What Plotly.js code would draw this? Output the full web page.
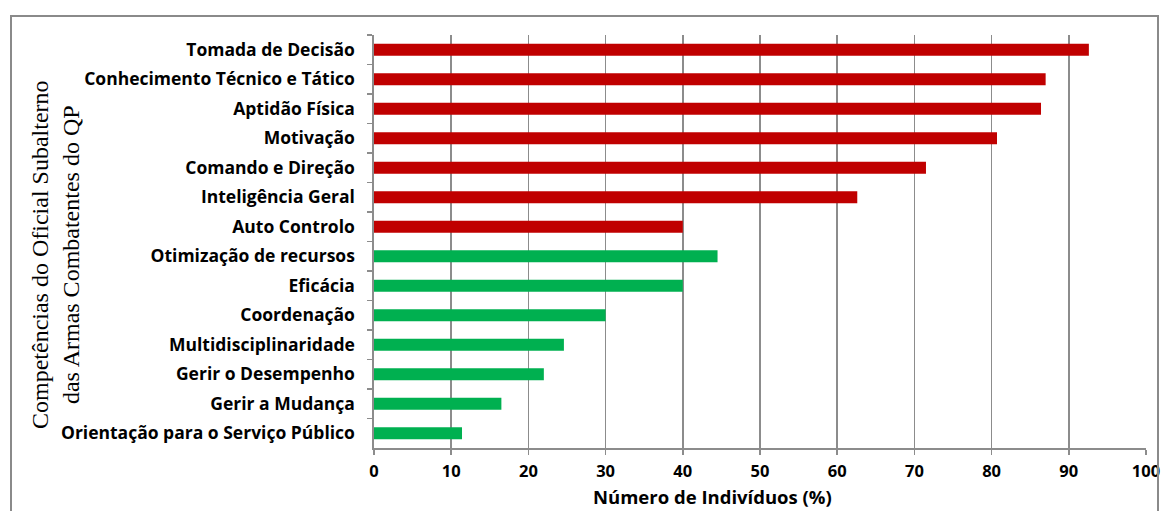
<!DOCTYPE html>
<html>
<head>
<meta charset="utf-8">
<script src="https://cdn.plot.ly/plotly-3.0.1.min.js"></script>
<style>
html,body{margin:0;padding:0;background:#fff;}
#wrap{position:relative;width:1167px;height:511px;}
#chart{position:absolute;left:0;top:0;width:1167px;height:511px;}
#frame{position:absolute;left:10px;top:15px;width:1149px;height:520px;border:2px solid #8a8a8a;box-sizing:border-box;pointer-events:none;}
</style>
</head>
<body>
<div id="wrap"><div id="chart"></div><div id="frame"></div></div>
<script>
// Categories top to bottom
const categories = [
  "Tomada de Decisão",
  "Conhecimento Técnico e Tático",
  "Aptidão Física",
  "Motivação",
  "Comando e Direção",
  "Inteligência Geral",
  "Auto Controlo",
  "Otimização de recursos",
  "Eficácia",
  "Coordenação",
  "Multidisciplinaridade",
  "Gerir o Desempenho",
  "Gerir a Mudança",
  "Orientação para o Serviço Público"
];
const values = [92.6, 87.0, 86.4, 80.7, 71.5, 62.6, 40.0, 44.5, 40.0, 30.0, 24.6, 22.0, 16.5, 11.4];
const groups = ["red","red","red","red","red","red","red","green","green","green","green","green","green","green"];
const groupColors = {red: "#C00000", green: "#00B050"};
const xTicks = [0,10,20,30,40,50,60,70,80,90,100];
const xTitle = "Número de Indivíduos (%)";
const yTitle = "Competências do Oficial Subalterno<br>das Armas Combatentes do QP";

const trace = {
  type: "bar",
  orientation: "h",
  y: categories,
  x: values,
  marker: {color: groups.map(g => groupColors[g])},
  hoverinfo: "x+y"
};

const boldFont = "Open Sans, DejaVu Sans, sans-serif";

const layout = {
  width: 1167, height: 511,
  margin: {l: 374, r: 21, t: 35, b: 63},
  paper_bgcolor: "#fff", plot_bgcolor: "#fff",
  showlegend: false,
  bargap: 0.6,
  font: {family: boldFont, color: "#000"},
  xaxis: {
    range: [0, 100],
    tickvals: xTicks,
    ticktext: xTicks.map(String),
    showgrid: true, gridcolor: "#8c8c8c", gridwidth: 1.6,
    showline: true, linecolor: "#8c8c8c", linewidth: 1.6,
    ticks: "outside", ticklen: 5, tickcolor: "#8c8c8c", tickwidth: 1.6,
    tickfont: {family: boldFont, size: 16.5, weight: "bold", color: "#000"},
    ticklabelstandoff: 3,
    zeroline: false,
    fixedrange: true
  },
  yaxis: {
    type: "category",
    categoryorder: "array",
    categoryarray: categories,
    autorange: "reversed",
    showgrid: false,
    showline: true, linecolor: "#8c8c8c", linewidth: 1.6,
    ticks: "outside", tickson: "boundaries", ticklen: 5, tickcolor: "#8c8c8c", tickwidth: 1.6,
    tickfont: {family: boldFont, size: 17.5, weight: "bold", color: "#000"},
    ticklabelstandoff: 14,
    fixedrange: true
  },
  annotations: [{
    text: yTitle,
    xref: "paper", yref: "paper",
    x: (55 - 374) / 772, y: (448 - 255) / 413,
    xanchor: "center", yanchor: "middle",
    textangle: -90, showarrow: false,
    font: {family: "Liberation Serif, Times New Roman, serif", size: 24, color: "#000"}
  }, {
    text: xTitle,
    xref: "paper", yref: "paper",
    x: (712 - 374) / 772, y: -(497 - 448) / 413,
    xanchor: "center", yanchor: "middle",
    showarrow: false,
    font: {family: boldFont, size: 18.5, weight: "bold", color: "#000"}
  }]
};

Plotly.newPlot("chart", [trace], layout, {displayModeBar: false, staticPlot: true});
</script>
</body>
</html>
